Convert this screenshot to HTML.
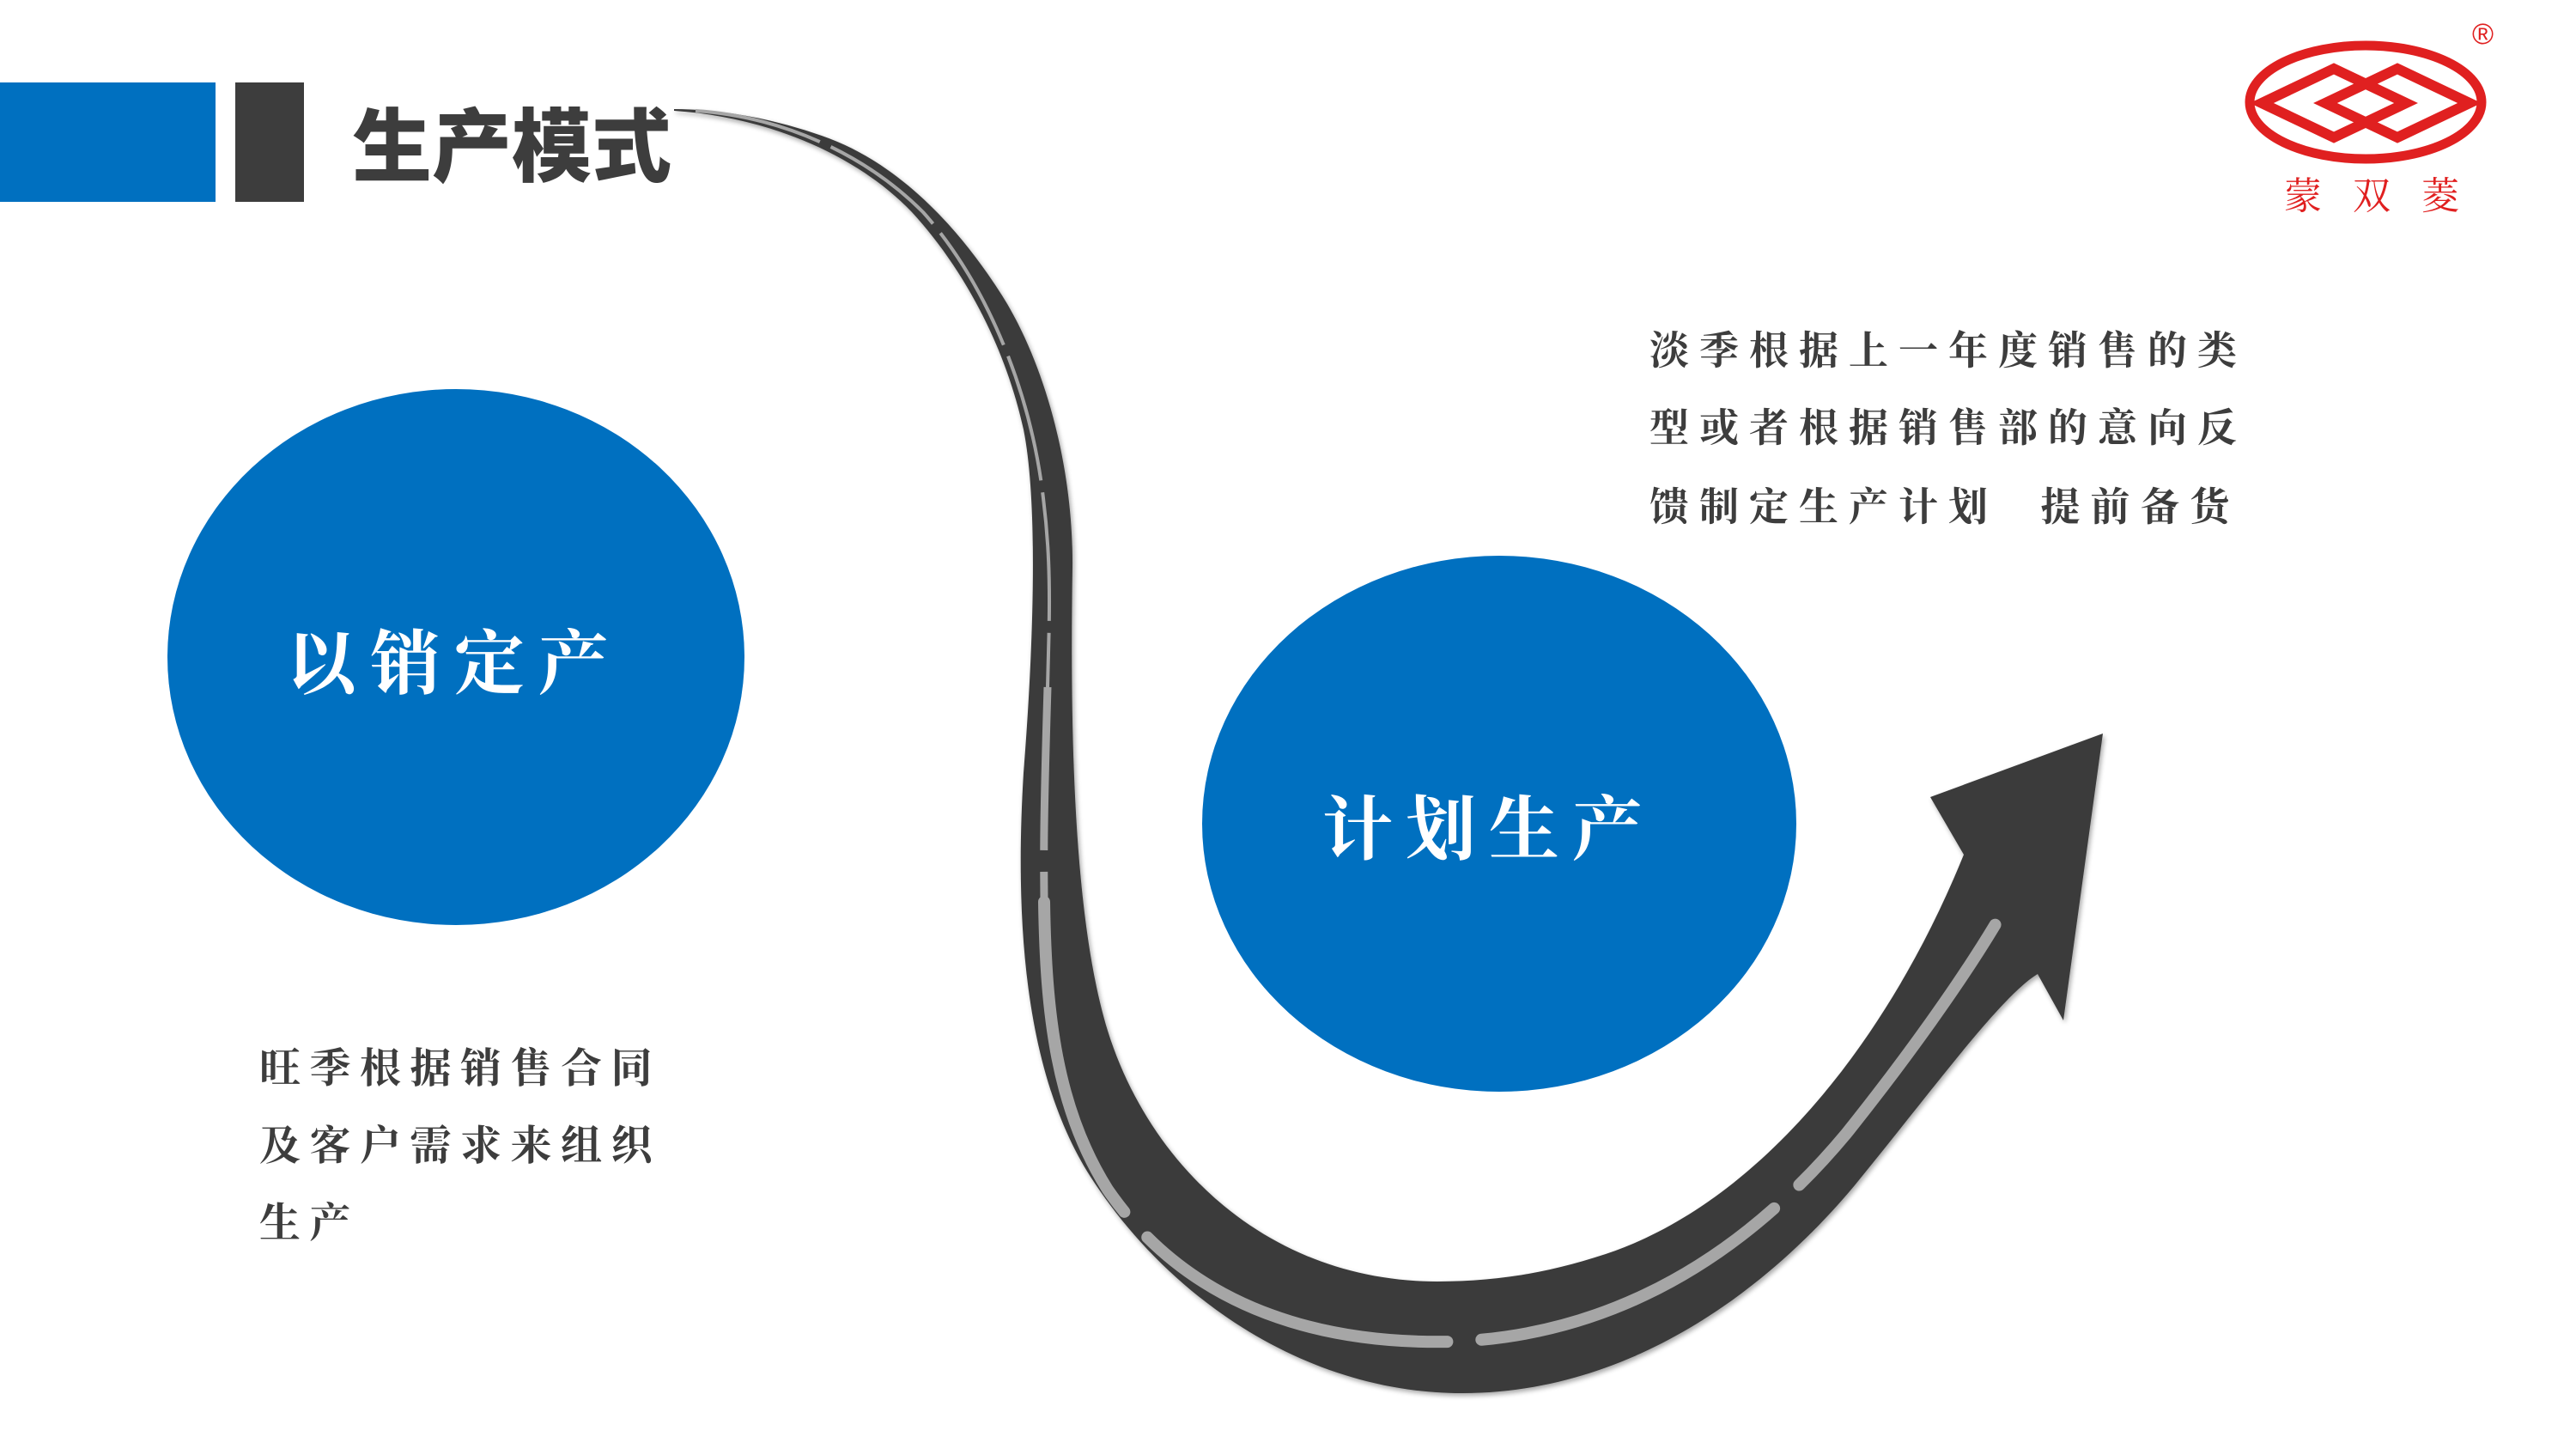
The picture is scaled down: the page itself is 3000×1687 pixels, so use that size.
<!DOCTYPE html>
<html><head><meta charset="utf-8"><style>
html,body{margin:0;padding:0;background:#fff}
body{width:3000px;height:1687px;position:relative;overflow:hidden;font-family:"Liberation Sans","Noto Serif CJK SC","Noto Sans CJK SC",serif}
.t{position:absolute;white-space:pre;line-height:1;font-weight:bold}
</style></head><body>
<div style="position:absolute;left:0;top:96px;width:251px;height:139px;background:#0070c0"></div>
<div style="position:absolute;left:274px;top:96px;width:80px;height:139px;background:#3d3d3d"></div>
<div class="t" style="left:410px;top:126px;font-size:93px;color:#3d3d3d;font-family:'Liberation Sans','Noto Sans CJK SC',sans-serif;font-weight:900">生产模式</div>

<svg width="3000" height="1687" style="position:absolute;left:0;top:0">
<defs><filter id="sh" x="-5%" y="-5%" width="110%" height="110%"><feGaussianBlur in="SourceAlpha" stdDeviation="3"/><feOffset dx="2" dy="3"/><feComponentTransfer><feFuncA type="linear" slope="0.35"/></feComponentTransfer><feMerge><feMergeNode/><feMergeNode in="SourceGraphic"/></feMerge></filter></defs>
<ellipse cx="531" cy="765" rx="336" ry="312" fill="#0070c0"/>
<ellipse cx="1746" cy="959" rx="346" ry="312" fill="#0070c0"/>
<path filter="url(#sh)" fill="#3a3a3a" d="M785,129 C880,135 990,172 1062,247 C1120,310 1170,400 1192,500 C1212,600 1200,800 1192,900 C1180,1100 1200,1260 1270,1370 C1360,1510 1520,1622 1703,1622 C1900,1622 2060,1500 2160,1380 C2250,1270 2330,1160 2373,1134 L2403,1188 L2449,854 L2248,928 L2287,995 C2200,1210 2050,1400 1870,1460 C1800,1483 1740,1492 1674,1492 C1480,1492 1340,1360 1290,1200 C1250,1070 1246,850 1249,660 C1250,540 1215,420 1167,344 C1120,270 1050,190 957,158 C900,138 840,127 785,127 Z"/>
<path fill="none" stroke="#a6a6a6" stroke-width="4" stroke-dasharray="150 14" d="M810,129 C900,135 1000,172 1075,247 C1145,325 1200,450 1215,580 C1225,660 1222,720 1220,800"/>
<path fill="none" stroke="#a6a6a6" stroke-width="9" stroke-dasharray="190 25" d="M1220,800 C1217,900 1215,960 1216,1050"/>
<path fill="none" stroke="#a6a6a6" stroke-width="14" stroke-dasharray="380 40" stroke-linecap="round" d="M1216,1050 C1218,1180 1230,1290 1290,1385 C1390,1530 1550,1565 1690,1562 C1900,1555 2050,1440 2150,1320 C2230,1220 2300,1120 2339,1050"/>
<ellipse cx="2755" cy="119" rx="135" ry="66" fill="none" stroke="#e02020" stroke-width="11"/>
<path fill="none" stroke="#e02020" stroke-width="12" stroke-linejoin="miter" d="M2634,120 L2718,80 L2802,120 L2718,160 Z M2708,120 L2792,80 L2876,120 L2792,160 Z"/>
</svg>

<div class="t" style="left:2879px;top:23px;font-size:34px;color:#e02020;font-weight:normal">®</div>
<div class="t" style="left:2660px;top:207px;font-size:44px;color:#e02020;font-weight:normal;letter-spacing:36px">蒙双菱</div>

<div class="t" style="left:333px;top:733px;font-size:82px;color:#fff;letter-spacing:16px">以销定产</div>
<div class="t" style="left:1540px;top:926px;font-size:82px;color:#fff;letter-spacing:15px">计划生产</div>

<div class="t" style="left:1921px;top:385px;font-size:46px;color:#3d3d3d;letter-spacing:12px">淡季根据上一年度销售的类</div>
<div class="t" style="left:1921px;top:475px;font-size:46px;color:#3d3d3d;letter-spacing:12px">型或者根据销售部的意向反</div>
<div class="t" style="left:1921px;top:567px;font-size:46px;color:#3d3d3d;letter-spacing:12px">馈制定生产计划  提前备货</div>

<div class="t" style="left:302px;top:1221px;font-size:48px;color:#3d3d3d;letter-spacing:10.5px">旺季根据销售合同</div>
<div class="t" style="left:302px;top:1311px;font-size:48px;color:#3d3d3d;letter-spacing:10.5px">及客户需求来组织</div>
<div class="t" style="left:302px;top:1401px;font-size:48px;color:#3d3d3d;letter-spacing:10.5px">生产</div>
</body></html>
